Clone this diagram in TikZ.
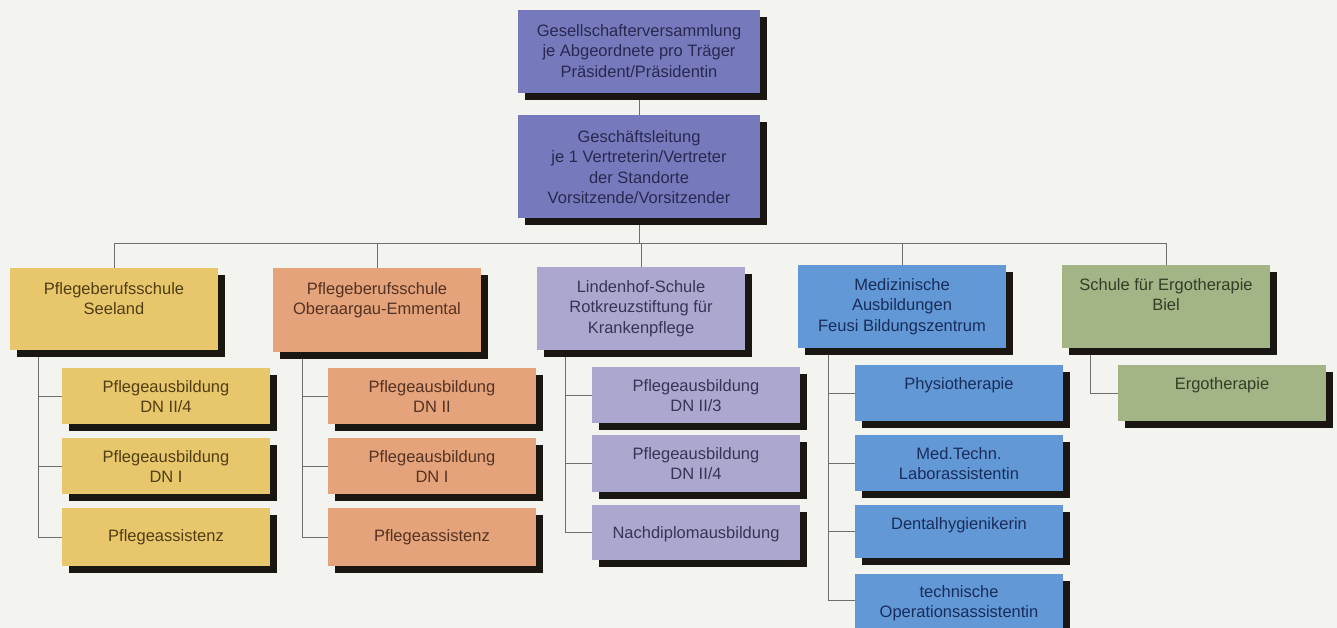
\documentclass[tikz,border=0pt]{standalone}
\usepackage{fontspec}
\setmainfont{Liberation Sans}
\usetikzlibrary{shadows,backgrounds,calc}
\definecolor{bgcol}{RGB}{243,243,240}
\definecolor{topcol}{RGB}{118,122,188}
\definecolor{yelcol}{RGB}{232,199,108}
\definecolor{salcol}{RGB}{228,163,122}
\definecolor{lavcol}{RGB}{171,167,207}
\definecolor{blucol}{RGB}{98,152,214}
\definecolor{grecol}{RGB}{163,181,134}
\definecolor{shadcol}{RGB}{26,22,18}
\definecolor{linecol}{RGB}{110,110,110}
\definecolor{ttop}{RGB}{40,40,80}
\definecolor{tyel}{RGB}{80,62,20}
\definecolor{tsal}{RGB}{85,50,35}
\definecolor{tlav}{RGB}{55,52,85}
\definecolor{tblu}{RGB}{25,45,90}
\definecolor{tgre}{RGB}{50,62,38}
\newcommand\btext[4]{\node[txt, text=#4, anchor=north] (t#1) at ([yshift=-#2pt]#1.north) {#3};}
\begin{document}
\begin{tikzpicture}[x=1pt,y=-1pt,
  box/.style={rectangle, draw=none, inner sep=0pt, outer sep=0pt, anchor=north west,
    minimum width=208pt, minimum height=83pt,
    general shadow={fill=shadcol, shadow xshift=7pt, shadow yshift=-7pt}},
  sub/.style={box, minimum height=56pt},
  txt/.style={inner sep=0pt, align=center, font=\fontsize{16.5}{20.5}\selectfont},
  conn/.style={draw=linecol, line width=1pt}]
\useasboundingbox (0,0) rectangle (1337,628);

% top
\node[box, fill=topcol, minimum width=242pt] (g1) at (518,10) {};
\node[box, fill=topcol, minimum width=242pt, minimum height=103pt] (g2) at (518,115) {};
% level 1
\node[box, fill=yelcol, minimum height=82pt] (l1) at (10,268) {};
\node[box, fill=salcol, minimum height=84pt] (l2) at (273,268) {};
\node[box, fill=lavcol] (l3) at (537,267) {};
\node[box, fill=blucol] (l4) at (798,265) {};
\node[box, fill=grecol] (l5) at (1062,265) {};
% children
\node[sub, fill=yelcol] (c11) at (62,368) {};
\node[sub, fill=yelcol] (c12) at (62,438) {};
\node[sub, fill=yelcol, minimum height=58pt] (c13) at (62,508) {};
\node[sub, fill=salcol] (c21) at (328,368) {};
\node[sub, fill=salcol] (c22) at (328,438) {};
\node[sub, fill=salcol, minimum height=58pt] (c23) at (328,508) {};
\node[sub, fill=lavcol] (c31) at (592,367) {};
\node[sub, fill=lavcol, minimum height=57pt] (c32) at (592,435) {};
\node[sub, fill=lavcol, minimum height=55pt] (c33) at (592,505) {};
\node[sub, fill=blucol] (c41) at (855,365) {};
\node[sub, fill=blucol] (c42) at (855,435) {};
\node[sub, fill=blucol, minimum height=53pt] (c43) at (855,505) {};
\node[sub, fill=blucol, minimum height=70pt] (c44) at (855,574) {};
\node[sub, fill=grecol] (c51) at (1118,365) {};

% texts
\btext{g1}{14}{Gesellschafterversammlung\\je Abgeordnete pro Träger\\Präsident/Präsidentin}{ttop}
\btext{g2}{15}{Geschäftsleitung\\je 1 Vertreterin/Vertreter\\der Standorte\\Vorsitzende/Vorsitzender}{ttop}
\btext{l1}{14}{Pflegeberufsschule\\Seeland}{tyel}
\btext{l2}{14}{Pflegeberufsschule\\Oberaargau-Emmental}{tsal}
\btext{l3}{13}{Lindenhof-Schule\\Rotkreuzstiftung für\\Krankenpflege}{tlav}
\btext{l4}{13}{Medizinische\\Ausbildungen\\Feusi Bildungszentrum}{tblu}
\btext{l5}{13}{Schule für Ergotherapie\\Biel}{tgre}
\btext{c11}{12}{Pflegeausbildung\\DN II/4}{tyel}
\btext{c12}{12}{Pflegeausbildung\\DN I}{tyel}
\btext{c13}{21}{Pflegeassistenz}{tyel}
\btext{c21}{12}{Pflegeausbildung\\DN II}{tsal}
\btext{c22}{12}{Pflegeausbildung\\DN I}{tsal}
\btext{c23}{21}{Pflegeassistenz}{tsal}
\btext{c31}{12}{Pflegeausbildung\\DN II/3}{tlav}
\btext{c32}{12}{Pflegeausbildung\\DN II/4}{tlav}
\btext{c33}{21}{Nachdiplomausbildung}{tlav}
\btext{c41}{12}{Physiotherapie}{tblu}
\btext{c42}{12}{Med.Techn.\\Laborassistentin}{tblu}
\btext{c43}{12}{Dentalhygienikerin}{tblu}
\btext{c44}{11}{technische\\Operationsassistentin}{tblu}
\btext{c51}{12}{Ergotherapie}{tgre}

\begin{pgfonlayer}{background}
\fill[bgcol] (0,0) rectangle (1337,628);
\coordinate (bus) at (0,243);
\draw[conn] (g1.south) -- (g2.north);
\draw[conn] (g2.south) -- (g2.south |- bus);
\draw[conn] (l1.north |- bus) -- (l5.north |- bus);
\foreach \n in {l1,l2,l3,l4,l5} {\draw[conn] (\n.north |- bus) -- (\n.north);}
\coordinate (k1) at ([xshift=28pt]l1.south west);
\coordinate (k2) at ([xshift=29pt]l2.south west);
\coordinate (k3) at ([xshift=28pt]l3.south west);
\coordinate (k4) at ([xshift=30pt]l4.south west);
\coordinate (k5) at ([xshift=28pt]l5.south west);
\foreach \k/\c in {k1/c11,k1/c12,k1/c13,k2/c21,k2/c22,k2/c23,k3/c31,k3/c32,k3/c33,k4/c41,k4/c42,k4/c43,k5/c51}
  {\draw[conn] (\k) |- (\c.west);}
\draw[conn] (k4) |- ([yshift=-26pt]c44.north west);
\end{pgfonlayer}
\end{tikzpicture}
\end{document}
